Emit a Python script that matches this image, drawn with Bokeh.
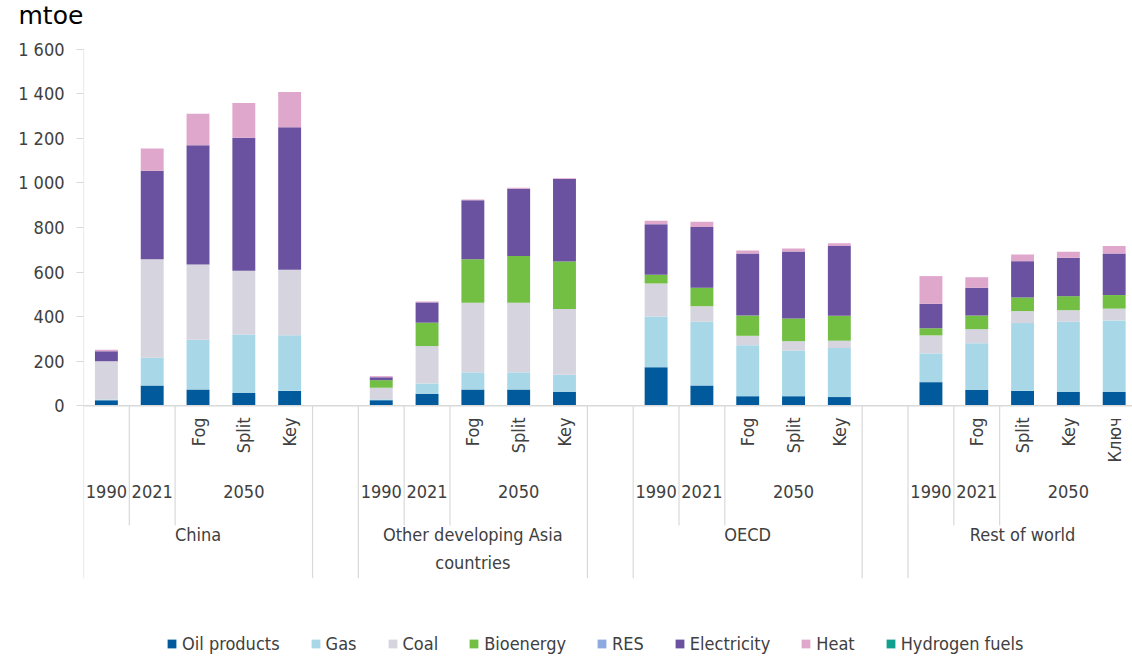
from bokeh.plotting import figure
from bokeh.models import ColumnDataSource, FixedTicker, Legend, LegendItem, Range1d, Span
from bokeh.core.properties import value
from bokeh.embed import file_html
from bokeh.resources import INLINE

# ---- data (mtoe) ----
groups = ["China", "Other developing Asia\ncountries", "OECD", "Rest of world"]
years = ["1990", "2021", "2050"]
scenario_labels = [
    ["", "", "Fog", "Split", "Key"],
    ["", "", "Fog", "Split", "Key"],
    ["", "", "Fog", "Split", "Key"],
    ["", "Fog", "Split", "Key", "Ключ"],
]
fuels = ["Oil products", "Gas", "Coal", "Bioenergy", "RES", "Electricity", "Heat", "Hydrogen fuels"]
colors = ["#005a9c", "#a8d8e8", "#d6d5df", "#72bf44", "#8ea9e0", "#6a52a0", "#e0a7cc", "#12a08e"]

oil = [25, 91, 73, 57, 67, 25, 54, 73, 73, 63, 173, 91, 43, 43, 39, 106, 72, 67, 63, 63]
gas = [3, 124, 223, 263, 249, 4, 46, 77, 77, 76, 228, 286, 229, 205, 220, 129, 209, 304, 314, 320]
coal = [172, 443, 338, 286, 295, 52, 168, 312, 312, 295, 148, 70, 42, 42, 33, 81, 63, 54, 52, 53]
bio = [0, 0, 0, 0, 0, 34, 105, 196, 210, 214, 39, 83, 91, 102, 112, 32, 61, 61, 63, 61]
res = [0, 0, 0, 0, 0, 0, 0, 0, 0, 0, 0, 0, 0, 0, 0, 0, 0, 0, 0, 0]
elec = [45, 397, 535, 597, 639, 13, 91, 264, 302, 370, 227, 272, 278, 300, 313, 110, 125, 163, 172, 186]
heat = [6, 100, 142, 156, 158, 5, 4, 4, 5, 3, 16, 24, 14, 14, 13, 124, 47, 30, 27, 34]
hydrogen = [0, 0, 0, 0, 0, 0, 0, 0, 0, 0, 0, 0, 0, 0, 0, 0, 0, 0, 0, 0]

y_ticks = [0, 200, 400, 600, 800, 1000, 1200, 1400, 1600]

# ---- layout of the category slots ----
BARS = 5          # bars per region
GAP = 1           # empty slot between regions
year_spans = [(0, 1), (1, 2), (2, 5)]   # slots covered by each year label
step = BARS + GAP
n_slots = step * len(groups) - GAP

x_bar = [g * step + i + 0.5 for g in range(len(groups)) for i in range(BARS)]

FONT = "DejaVu Sans Condensed, Roboto, sans-serif"
FS = "18px"
TXT = "#404040"
GRID = "#d9d9d9"

# label rows, in data units below the zero line
ROW_SCEN = -52
ROW_YEAR = -385
ROW_GROUP = -530
ROW_YEAR_END = -538
ROW_BOTTOM = -774
Y_MIN = -1130
Y_MAX = 1680

p = figure(width=1132, height=657,
           x_range=Range1d(0, 22.9), y_range=Range1d(Y_MIN, Y_MAX),
           x_axis_location=None, output_backend="svg", toolbar_location=None,
           min_border_left=83, min_border_right=0, min_border_top=0, min_border_bottom=0)
p.outline_line_color = None
p.xgrid.visible = False
p.ygrid.visible = False

p.title.text = "mtoe"
p.title.text_font = "DejaVu Sans"
p.title.text_font_size = "25px"
p.title.text_font_style = "normal"
p.title.text_color = "#000000"
p.title.align = "left"
p.title.vertical_align = "top"
p.title.offset = -65
p.title.standoff = 0

yax = p.yaxis[0]
yax.ticker = FixedTicker(ticks=y_ticks)
yax.major_label_overrides = {t: f"{t:,}".replace(",", " ") for t in y_ticks}
yax.axis_line_color = None
yax.major_tick_line_color = GRID
yax.minor_tick_line_color = None
yax.major_tick_out = 7
yax.major_tick_in = 0
yax.major_label_standoff = 12
yax.major_label_text_font = FONT
yax.major_label_text_font_size = FS
yax.major_label_text_color = TXT

p.add_layout(Span(location=0, dimension="width", line_color=GRID, line_width=1.5))

# stacked bars
keys = ["oil", "gas", "coal", "bio", "res", "elec", "heat", "hydrogen"]
src = ColumnDataSource(dict(x=x_bar, oil=oil, gas=gas, coal=coal, bio=bio, res=res,
                            elec=elec, heat=heat, hydrogen=hydrogen))
bars = p.vbar_stack(keys, x="x", width=0.5, fill_color=colors, line_color=None, source=src)

# value axis line and the separators under the zero line
sx, sy0, sy1 = [0], [y_ticks[-1]], [ROW_BOTTOM]
for g in range(len(groups)):
    start = g * step
    for a, b in year_spans[:-1]:
        sx.append(start + b); sy0.append(0); sy1.append(ROW_YEAR_END)
    for edge in (start + BARS, start + step):
        if edge < n_slots:
            sx.append(edge); sy0.append(0); sy1.append(ROW_BOTTOM)
p.segment(x0=sx, y0=sy0, x1=sx, y1=sy1, line_color=GRID, line_width=1.2)

# scenario labels (rotated)
scx, sct = [], []
for g, labs in enumerate(scenario_labels):
    for i, lab in enumerate(labs):
        if lab:
            scx.append(g * step + i + 0.5); sct.append(lab)
p.text(x=scx, y=[ROW_SCEN] * len(scx), text=sct, angle=1.5708,
       text_align="right", text_baseline="middle",
       text_font=value(FONT), text_font_size=FS, text_color=TXT)

# year labels
yx, yt = [], []
for g in range(len(groups)):
    for (a, b), yr in zip(year_spans, years):
        yx.append(g * step + (a + b) / 2); yt.append(yr)
p.text(x=yx, y=[ROW_YEAR] * len(yx), text=yt,
       text_align="center", text_baseline="middle",
       text_font=value(FONT), text_font_size=FS, text_color=TXT)

# region labels
gx = [g * step + BARS / 2 for g in range(len(groups))]
p.text(x=gx, y=[ROW_GROUP] * len(gx), text=groups,
       text_align="center", text_baseline="top", text_line_height=1.35,
       text_font=value(FONT), text_font_size=FS, text_color=TXT)

legend = Legend(items=[LegendItem(label=f, renderers=[r]) for f, r in zip(fuels, bars)],
                orientation="horizontal", location=(83, 3),
                glyph_width=11, glyph_height=11, label_standoff=5, spacing=30,
                padding=0, margin=0, border_line_color=None, background_fill_alpha=0,
                label_text_font=FONT, label_text_font_size=FS, label_text_color=TXT)
p.add_layout(legend)

open("out.html", "w").write(file_html(p, INLINE))
